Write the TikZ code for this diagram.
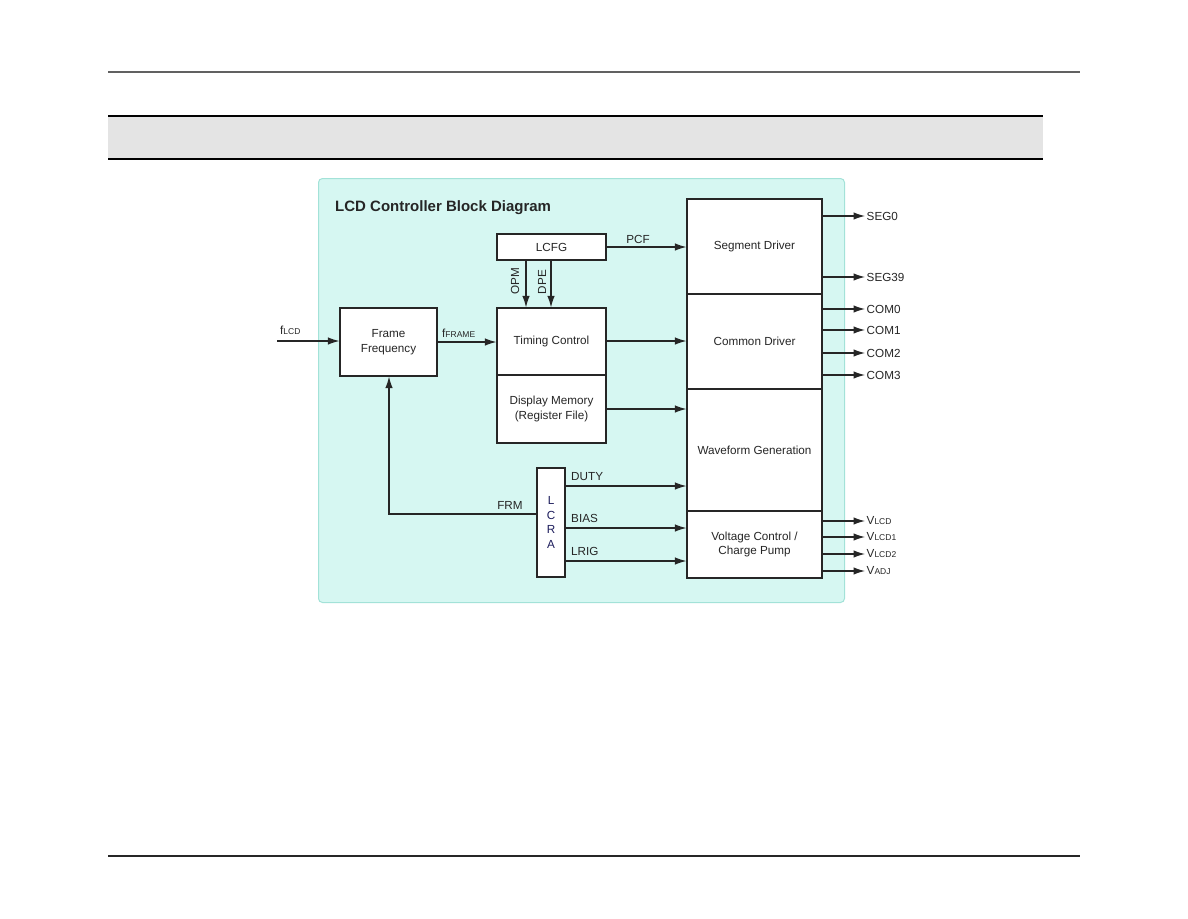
\documentclass[tikz,border=0pt]{standalone}
\usepackage{fontspec}
\setmainfont{Liberation Sans}
\usetikzlibrary{arrows.meta,positioning}
\definecolor{cyanbg}{HTML}{D6F7F2}
\definecolor{cyanbd}{HTML}{A3E2D8}
\definecolor{ink}{HTML}{262626}
\definecolor{bandgray}{HTML}{E4E4E4}
\begin{document}
\begin{tikzpicture}[x=1pt,y=-1pt,
  txt/.style={font=\fontsize{11.7}{14.5}\selectfont, text=ink, inner sep=1pt, align=center},
  blk/.style={txt, draw=ink, line width=1.2pt, fill=white, inner sep=0pt},
  arr/.style={draw=ink, line width=1.2pt, -{Latex[length=11.5pt,width=7.5pt]}},
  outl/.style={txt, anchor=west, inner sep=1.5pt}
]
\useasboundingbox (0,0) rectangle (1188,918);
\fill[white] (0,0) rectangle (1188,918);
% page rules
\draw[line width=2pt, draw=black!62] (108,72) -- (1080,72);
\fill[bandgray] (108,116) rectangle (1043,159);
\draw[line width=2.2pt] (108,116) -- (1043,116);
\draw[line width=1.6pt] (108,159) -- (1043,159);
\draw[line width=1.5pt, draw=black!85] (108,856) -- (1080,856);
% cyan panel
\draw[fill=cyanbg, draw=cyanbd, line width=1pt, rounded corners=4pt] (318.5,178.5) rectangle (844.5,602.5);
\node[anchor=west, font=\fontsize{15}{18}\selectfont\bfseries, text=ink, inner sep=0pt] (title) at (335,208) {LCD Controller Block Diagram};
% blocks
\node[blk, minimum width=109pt, minimum height=26pt] (lcfg) at (551.5,247) {LCFG};
\node[blk, minimum width=109pt, minimum height=67pt] (timing) at (551.5,341.5) {Timing Control};
\node[blk, minimum width=109pt, minimum height=68pt] (dispmem) at (551.5,409) {Display Memory\\(Register File)};
\node[blk, minimum width=97pt, minimum height=68pt] (frame) at (388.5,342) {Frame\\Frequency};
\node[blk, minimum width=135pt, minimum height=95pt] (seg) at (754.5,246.5) {Segment Driver};
\node[blk, minimum width=135pt, minimum height=95pt] (com) at (754.5,341.5) {Common Driver};
\node[blk, minimum width=135pt, minimum height=122pt] (wave) at (754.5,450) {Waveform Generation};
\node[blk, minimum width=135pt, minimum height=67pt] (volt) at (754.5,544.5) {Voltage Control /\\Charge Pump};
\node[blk, minimum width=28pt, minimum height=109pt, text=ink!75!blue] (lcra) at (551,522.5) {L\\C\\R\\A};
% input
\coordinate (fin) at (277,341);
\node[txt, anchor=west] (flcd) at (279,330) {f{\fontsize{8.5}{10}\selectfont LCD}};
\draw[arr] (fin) -- (frame.west |- fin);
\draw[arr] (frame.east) -- (timing.west |- frame.east);
\node[txt, anchor=west] (fframe) at (441,333) {f{\fontsize{8.5}{10}\selectfont FRAME}};
% LCFG connections
\draw[arr] (lcfg.east) -- (seg.west |- lcfg.east);
\node[txt] (pcf) at (638,239) {PCF};
\draw[arr] ([xshift=-25.5pt]lcfg.south) -- ([xshift=-25.5pt]timing.north);
\draw[arr] ([xshift=-0.5pt]lcfg.south) -- ([xshift=-0.5pt]timing.north);
\node[txt, rotate=90] (opm) at (515,281) {OPM};
\node[txt, rotate=90] (dpe) at (542,282) {DPE};
% timing / memory to drivers
\coordinate (tcS) at ([yshift=0.5pt]timing.east);
\draw[arr] (tcS) -- (com.west |- tcS);
\draw[arr] (dispmem.east) -- (wave.west |- dispmem.east);
% LCRA
\coordinate (dutyS) at ([yshift=36.5pt]lcra.east);
\coordinate (biasS) at ([yshift=-5.5pt]lcra.east);
\coordinate (lrigS) at ([yshift=-38.5pt]lcra.east);
\coordinate (frmS) at ([yshift=8.5pt]lcra.west);
\draw[arr] (dutyS) -- (wave.west |- dutyS);
\node[txt, anchor=west] (duty) at (570,477) {DUTY};
\draw[arr] (biasS) -- (volt.west |- biasS);
\node[txt, anchor=west] (bias) at (570,518) {BIAS};
\draw[arr] (lrigS) -- (volt.west |- lrigS);
\node[txt, anchor=west] (lrig) at (570,551) {LRIG};
\draw[arr] (frmS) -| ([xshift=0.5pt]frame.south);
\node[txt] (frm) at (510,505) {FRM};
% outputs
\node[outl] (seg0) at (865,216) {SEG0};
\node[outl] (seg39) at (865,277) {SEG39};
\node[outl] (com0) at (865,309) {COM0};
\node[outl] (com1) at (865,330) {COM1};
\node[outl] (com2) at (865,353) {COM2};
\node[outl] (com3) at (865,375) {COM3};
\node[outl] (vlcd) at (865,521) {V{\fontsize{8.5}{10}\selectfont LCD}};
\node[outl] (vlcd1) at (865,537) {V{\fontsize{8.5}{10}\selectfont LCD1}};
\node[outl] (vlcd2) at (865,554) {V{\fontsize{8.5}{10}\selectfont LCD2}};
\node[outl] (vadj) at (865,571) {V{\fontsize{8.5}{10}\selectfont ADJ}};
\foreach \n in {seg0,seg39}{\draw[arr] (seg.east |- \n.west) -- (\n.west);}
\foreach \n in {com0,com1,com2,com3}{\draw[arr] (com.east |- \n.west) -- (\n.west);}
\foreach \n in {vlcd,vlcd1,vlcd2,vadj}{\draw[arr] (volt.east |- \n.west) -- (\n.west);}
\end{tikzpicture}
\end{document}
